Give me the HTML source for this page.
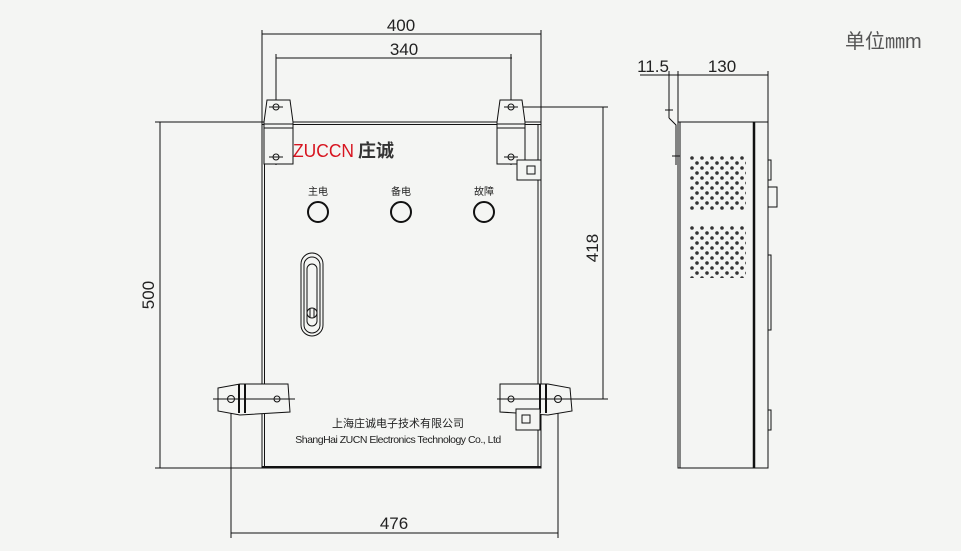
<!DOCTYPE html>
<html><head><meta charset="utf-8"><style>
html,body{margin:0;padding:0;background:#f4f5f3;}
svg{display:block;}
text{font-family:"Liberation Sans","Noto Sans CJK SC",sans-serif;fill:#222;}
</style></head><body>
<svg width="961" height="551" viewBox="0 0 961 551" xmlns="http://www.w3.org/2000/svg">
<defs>
<pattern id="vent" x="690" y="156" width="10" height="10" patternUnits="userSpaceOnUse">
<circle cx="2" cy="2" r="1.8" fill="#333"/><circle cx="7" cy="7" r="1.8" fill="#333"/>
</pattern>
</defs>
<g stroke="#111" fill="none" stroke-width="1">
<line x1="262" y1="34" x2="541" y2="34"/>
<line x1="262" y1="30" x2="262" y2="122"/>
<line x1="541" y1="30" x2="541" y2="122"/>
<line x1="276" y1="58" x2="512" y2="58"/>
<line x1="276" y1="54" x2="276" y2="165"/>
<line x1="511" y1="54" x2="511" y2="165"/>
<line x1="160" y1="122" x2="160" y2="468"/>
<line x1="155" y1="122" x2="262" y2="122"/>
<line x1="155" y1="468" x2="262" y2="468"/>
<line x1="603" y1="107" x2="603" y2="399"/>
<line x1="511" y1="107" x2="608" y2="107"/>
<line x1="558" y1="399" x2="608" y2="399"/>
<line x1="231" y1="533" x2="558" y2="533"/>
<line x1="231" y1="399" x2="231" y2="538"/>
<line x1="558" y1="399" x2="558" y2="538"/>
<rect x="262" y="122" width="279" height="346"/>
<line x1="264.5" y1="122" x2="264.5" y2="468"/>
<line x1="538" y1="124" x2="538" y2="468"/>
<line x1="262" y1="124.5" x2="541" y2="124.5"/>
<line x1="262" y1="467" x2="541" y2="467" stroke-width="2"/>
<path d="M264 122 L267 100 L290 100 L293 122 L293 164 L264 164 Z" fill="#f4f5f3"/>
<line x1="264" y1="124" x2="293" y2="124"/><line x1="264" y1="128" x2="293" y2="128"/>
<path d="M497 122 L500 100 L522 100 L525 122 L525 164 L497 164 Z" fill="#f4f5f3"/>
<line x1="497" y1="124" x2="525" y2="124"/><line x1="497" y1="128" x2="525" y2="128"/>
<circle cx="276" cy="107" r="3"/><circle cx="276" cy="157" r="3"/>
<circle cx="511" cy="107" r="3"/><circle cx="511" cy="157" r="3"/>
<line x1="269" y1="157" x2="283" y2="157"/><line x1="504" y1="157" x2="518" y2="157"/>
<line x1="269" y1="107" x2="283" y2="107"/><line x1="504" y1="107" x2="518" y2="107"/>
<rect x="517" y="160" width="24" height="20" fill="#f4f5f3"/>
<rect x="527" y="166" width="8" height="8"/>
<circle cx="318" cy="212" r="10" stroke-width="2"/>
<circle cx="401" cy="212" r="10" stroke-width="2"/>
<circle cx="484" cy="212" r="10" stroke-width="2"/>
<rect x="301" y="253" width="22" height="83" rx="11"/>
<rect x="304" y="257" width="16" height="76" rx="8"/>
<rect x="307" y="264" width="10" height="62" rx="5"/>
<circle cx="312" cy="313" r="5"/>
<line x1="310" y1="309" x2="310" y2="317"/><line x1="314" y1="309" x2="314" y2="317"/>
<path d="M218 388 L240 384 L288 384 L290 412 L240 415 L218 411 Z" fill="#f4f5f3"/>
<line x1="239" y1="384" x2="239" y2="413" stroke-width="2"/><line x1="245" y1="384" x2="245" y2="413" stroke-width="2"/>
<path d="M500 384 L548 384 L570 388 L572 411 L548 415 L500 412 Z" fill="#f4f5f3"/>
<line x1="540" y1="384" x2="540" y2="413" stroke-width="2"/><line x1="546" y1="384" x2="546" y2="413" stroke-width="2"/>
<circle cx="231" cy="399" r="3.5"/><circle cx="277" cy="399" r="3"/>
<circle cx="511" cy="399" r="3"/><circle cx="558" cy="399" r="3.5"/>
<line x1="213" y1="399" x2="295" y2="399"/><line x1="497" y1="399" x2="577" y2="399"/>
<rect x="516" y="409" width="24" height="21" fill="#f4f5f3"/>
<rect x="522" y="415" width="8" height="8"/>
<line x1="640" y1="75" x2="768" y2="75"/>
<line x1="669" y1="71" x2="669" y2="118"/>
<line x1="678" y1="71" x2="678" y2="122"/>
<line x1="768" y1="71" x2="768" y2="122"/>
<rect x="678" y="122" width="90" height="346"/>
<line x1="680" y1="122" x2="680" y2="468"/>
<line x1="754" y1="122" x2="754" y2="468" stroke-width="2.5"/>
<path d="M669 118 L676 125 L676 165"/>
<line x1="665" y1="110" x2="673" y2="110"/>
<line x1="672" y1="156" x2="680" y2="156"/>
<rect x="768" y="160" width="3" height="20"/>
<rect x="768" y="187" width="9" height="20"/>
<rect x="768" y="255" width="3" height="75"/>
<rect x="768" y="410" width="3" height="20"/>
</g>
<rect x="690" y="156" width="56" height="55" fill="url(#vent)"/>
<rect x="690" y="226" width="56" height="52" fill="url(#vent)"/>
<text x="401" y="31" font-size="17" text-anchor="middle">400</text>
<text x="404" y="55" font-size="17" text-anchor="middle">340</text>
<text x="394" y="529" font-size="17" text-anchor="middle">476</text>
<text x="653" y="72" font-size="17" text-anchor="middle">11.5</text>
<text x="722" y="72" font-size="17" text-anchor="middle">130</text>
<text transform="translate(154,295) rotate(-90)" font-size="17" text-anchor="middle">500</text>
<text transform="translate(598,248) rotate(-90)" font-size="17" text-anchor="middle">418</text>
<text x="845" y="48" font-size="20" style="fill:#555">单位㎜m</text>
<text x="293" y="157" font-size="18" style="fill:#d7141f" textLength="61" lengthAdjust="spacingAndGlyphs">ZUCCN</text>
<text x="358" y="157" font-size="18" font-weight="bold" style="fill:#333">庄诚</text>
<text x="318" y="195" font-size="10" text-anchor="middle">主电</text>
<text x="401" y="195" font-size="10" text-anchor="middle">备电</text>
<text x="484" y="195" font-size="10" text-anchor="middle">故障</text>
<text x="398" y="427" font-size="11" text-anchor="middle">上海庄诚电子技术有限公司</text>
<text x="398" y="443" font-size="10.5" text-anchor="middle" letter-spacing="-0.5">ShangHai ZUCN Electronics Technology Co., Ltd</text>
</svg>
</body></html>
